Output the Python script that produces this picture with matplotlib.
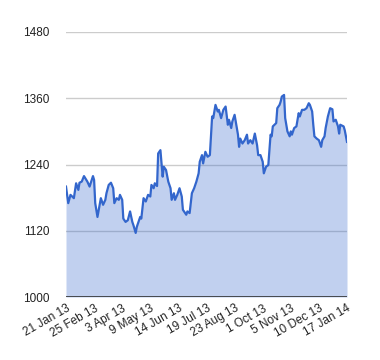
import numpy as np
import matplotlib.pyplot as plt

plt.rcParams['font.family'] = ['Liberation Sans', 'DejaVu Sans']

# trading day index and closing value
day = [0, 2, 4, 7, 9, 11, 12, 14, 16, 19, 21, 24, 25, 26, 28, 30, 31, 33, 35, 36,
       38, 40, 42, 43, 45, 47, 48, 50, 51, 53, 55, 57, 59, 60, 62, 63, 66, 67, 69, 71,
       73, 75, 76, 78, 79, 81, 82, 84, 86, 87, 89, 91, 93, 94, 96, 97, 99, 101, 103, 104,
       107, 108, 110, 112, 114, 116, 118, 119, 121, 122, 124, 126, 128, 130, 131, 133, 135, 136, 138, 140,
       142, 144, 145, 147, 148, 150, 151, 153, 154, 155, 157, 159, 161, 162, 164, 166, 168, 170, 171, 173,
       175, 176, 178, 180, 182, 183, 184, 187, 188, 190, 191, 192, 194, 195, 197, 199, 200, 201, 203, 205,
       207, 208, 210, 212, 214, 216, 217, 219, 220, 221, 223, 225, 227, 228, 230, 231, 233, 235, 237, 238,
       240, 242, 243, 244, 247, 248, 250]
close = [1200, 1170, 1185, 1179, 1206, 1194, 1207, 1209, 1219, 1209, 1200, 1219, 1212, 1170, 1145, 1167, 1179, 1167, 1176, 1188,
         1203, 1207, 1197, 1170, 1179, 1176, 1185, 1176, 1142, 1136, 1139, 1155, 1136, 1130, 1116, 1127, 1145, 1142, 1179, 1173,
         1185, 1182, 1203, 1197, 1206, 1201, 1260, 1266, 1218, 1236, 1230, 1209, 1197, 1176, 1188, 1176, 1185, 1197, 1182, 1158,
         1149, 1155, 1152, 1188, 1197, 1209, 1224, 1245, 1257, 1242, 1263, 1254, 1257, 1327, 1324, 1348, 1336, 1339, 1324, 1339,
         1345, 1312, 1321, 1306, 1318, 1330, 1318, 1294, 1272, 1287, 1278, 1284, 1294, 1278, 1284, 1278, 1296, 1275, 1257, 1257,
         1245, 1224, 1236, 1239, 1294, 1291, 1309, 1315, 1342, 1348, 1354, 1363, 1366, 1324, 1300, 1291, 1300, 1294, 1306, 1309,
         1333, 1327, 1339, 1339, 1342, 1351, 1348, 1336, 1312, 1291, 1287, 1284, 1272, 1284, 1291, 1306, 1327, 1342, 1340, 1318,
         1321, 1309, 1296, 1312, 1309, 1302, 1281]

tick_labels = ['21 Jan 13', '25 Feb 13', '3 Apr 13', '9 May 13', '14 Jun 13', '19 Jul 13',
               '23 Aug 13', '1 Oct 13', '5 Nov 13', '10 Dec 13', '17 Jan 14']
y_ticks = [1000, 1120, 1240, 1360, 1480]

fig = plt.figure(figsize=(3.8, 3.6), dpi=100)
ax = fig.add_axes([66 / 380, 1 - 297 / 360, 281 / 380, 265 / 360])

ax.fill_between(day, close, 1000, color='#3366cc', alpha=0.3, linewidth=0, zorder=2)
ax.plot(day, close, color='#3366cc', linewidth=1.6, zorder=3)

ax.set_xlim(0, 250)
ax.set_ylim(1000, 1480)
ax.set_yticks(y_ticks)
ax.set_yticklabels([str(v) for v in y_ticks])
ax.set_xticks(np.linspace(0, 250, len(tick_labels)))
ax.set_xticklabels(tick_labels, rotation=30, ha='right', rotation_mode='anchor')

ax.grid(axis='y', color='#cccccc', linewidth=1, zorder=1)
ax.set_axisbelow(True)
ax.axhline(1000, color='#333333', linewidth=1.2, zorder=4)
for s in ax.spines.values():
    s.set_visible(False)
ax.tick_params(axis='both', length=0, labelsize=8.5, labelcolor='#222222')
ax.tick_params(axis='y', pad=12)
ax.tick_params(axis='x', pad=4)

fig.savefig('out.png', dpi=100)
